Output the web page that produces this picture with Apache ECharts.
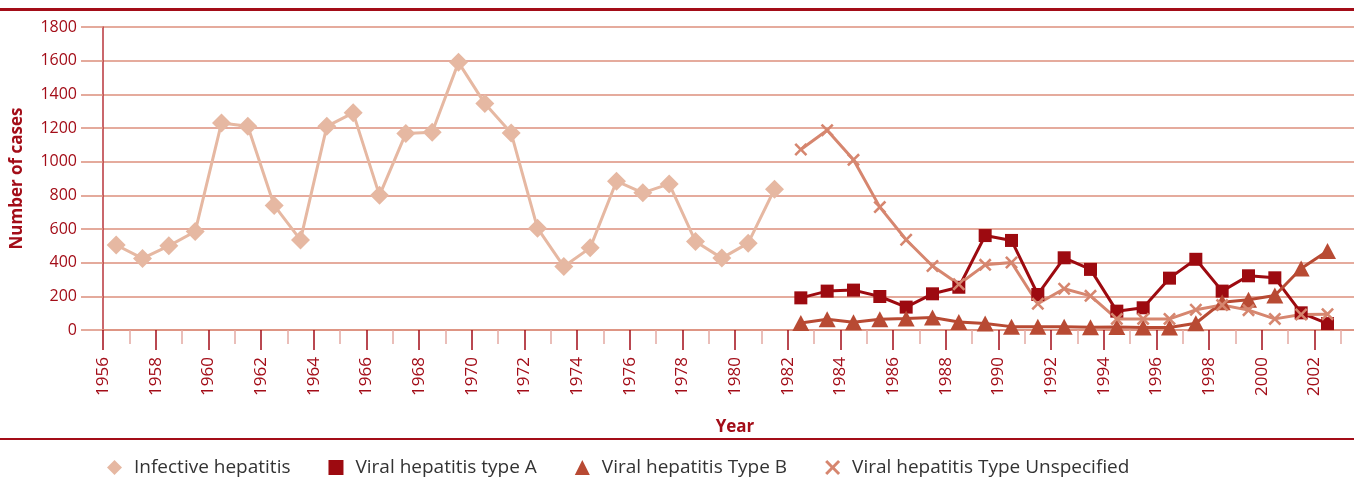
<!DOCTYPE html>
<html>
<head>
<meta charset="utf-8">
<script src="https://cdn.jsdelivr.net/npm/echarts@6/dist/echarts.min.js"></script>
<style>
  html, body { margin: 0; padding: 0; background: #fff; }
  #chart { width: 1354px; height: 477px; }
</style>
</head>
<body>
<div id="chart"></div>
<script>
var years = [1956, 1957, 1958, 1959, 1960, 1961, 1962, 1963, 1964, 1965, 1966, 1967,
    1968, 1969, 1970, 1971, 1972, 1973, 1974, 1975, 1976, 1977, 1978, 1979,
    1980, 1981, 1982, 1983, 1984, 1985, 1986, 1987, 1988, 1989, 1990, 1991,
    1992, 1993, 1994, 1995, 1996, 1997, 1998, 1999, 2000, 2001, 2002, 2003];

// 1956 - 1981
var infectiveYears = [1956, 1957, 1958, 1959, 1960, 1961, 1962, 1963, 1964, 1965, 1966, 1967,
    1968, 1969, 1970, 1971, 1972, 1973, 1974, 1975, 1976, 1977, 1978, 1979, 1980, 1981];
var infective = [505, 425, 500, 585, 1230, 1210, 740, 535, 1210, 1290, 800, 1168,
    1175, 1590, 1345, 1170, 605, 377, 488, 884, 815, 868, 526, 427, 516, 836];

// 1982 - 2002
var viralYears = [1982, 1983, 1984, 1985, 1986, 1987, 1988, 1989, 1990, 1991, 1992,
    1993, 1994, 1995, 1996, 1997, 1998, 1999, 2000, 2001, 2002];
var typeA = [191, 231, 237, 199, 136, 215, 254, 561, 532, 211, 429,
    360, 112, 132, 308, 420, 231, 322, 310, 102, 38];
var typeB = [42, 64, 46, 64, 68, 74, 48, 38, 20, 20, 20,
    17, 18, 15, 15, 40, 165, 180, 205, 365, 470];
var typeU = [1072, 1187, 1011, 730, 536, 380, 272, 387, 401, 156, 245,
    203, 66, 66, 66, 120, 148, 118, 66, 92, 94];

var yTicks = { min: 0, max: 1800, interval: 200 };

var dark = '#a30d18';
var grid = '#dc8f7c';
var xPath = 'path://M0,1.4L1.4,0L5,3.6L8.6,0L10,1.4L6.4,5L10,8.6L8.6,10L5,6.4L1.4,10L0,8.6L3.6,5Z';

function pairs(xs, vs) {
    return xs.map(function (y, i) { return [String(y), vs[i]]; });
}

var myChart = echarts.init(document.getElementById('chart'));

var option = {
    animation: false,
    textStyle: { fontFamily: 'Open Sans' },
    grid: { left: 103, right: -13, top: 27, bottom: 147, outerBoundsMode: 'none', containLabel: false },
    graphic: [
        { type: 'rect', shape: { x: 0, y: 8, width: 1354, height: 3 }, style: { fill: dark } },
        { type: 'rect', shape: { x: 0, y: 438, width: 1354, height: 2 }, style: { fill: dark } }
    ],
    legend: {
        left: 102,
        top: 453,
        itemWidth: 15,
        itemHeight: 15,
        itemGap: 38,
        textStyle: { color: '#333', fontSize: 19, fontFamily: 'Open Sans', padding: [0, 0, 0, 7] },
        data: [
            { name: 'Infective hepatitis', icon: 'diamond' },
            { name: 'Viral hepatitis type A', icon: 'path://M2,2L12,2L12,12L2,12Z' },
            { name: 'Viral hepatitis Type B', icon: 'triangle' },
            { name: 'Viral hepatitis Type Unspecified', icon: xPath }
        ]
    },
    xAxis: [
        {
            type: 'category',
            data: years.map(String),
            boundaryGap: true,
            show: false
        },
        {
            type: 'value',
            position: 'bottom',
            min: 1956,
            max: 2004,
            interval: 2,
            name: 'Year',
            nameLocation: 'middle',
            nameGap: 89,
            nameTextStyle: { color: dark, fontSize: 17, fontWeight: 'bold' },
            axisLine: { show: true, lineStyle: { color: grid, width: 1.5 } },
            axisTick: { show: true, length: 20, lineStyle: { color: dark, width: 1.5 } },
            minorTick: { show: true, splitNumber: 2, length: 14, lineStyle: { color: '#e3a9a2', width: 1.5 } },
            splitLine: { show: false },
            axisLabel: {
                rotate: 90,
                margin: 27,
                color: dark,
                fontSize: 17,
                formatter: function (v) { return String(v); }
            }
        }
    ],
    yAxis: {
        type: 'value',
        min: yTicks.min,
        max: yTicks.max,
        interval: yTicks.interval,
        name: 'Number of cases',
        nameLocation: 'middle',
        nameGap: 77,
        nameTextStyle: { color: dark, fontSize: 17, fontWeight: 'bold' },
        axisLine: { show: true, lineStyle: { color: '#b8343b', width: 1.5 } },
        axisTick: { show: true, length: 22, lineStyle: { color: grid, width: 1.5 } },
        axisLabel: { color: dark, fontSize: 16, margin: 26, formatter: function (v) { return String(v); } },
        splitLine: { show: true, lineStyle: { color: grid, width: 1.5 } }
    },
    series: [
        {
            name: 'Infective hepatitis',
            type: 'line',
            xAxisIndex: 0,
            data: pairs(infectiveYears, infective),
            symbol: 'diamond',
            symbolSize: 19,
            showAllSymbol: true,
            lineStyle: { color: '#e6b8a2', width: 3 },
            itemStyle: { color: '#e6b8a2' }
        },
        {
            name: 'Viral hepatitis type A',
            type: 'line',
            xAxisIndex: 0,
            data: pairs(viralYears, typeA),
            symbol: 'rect',
            symbolSize: 13,
            showAllSymbol: true,
            lineStyle: { color: '#9d0a10', width: 3 },
            itemStyle: { color: '#9d0a10' }
        },
        {
            name: 'Viral hepatitis Type B',
            type: 'line',
            xAxisIndex: 0,
            data: pairs(viralYears, typeB),
            symbol: 'triangle',
            symbolSize: [17, 16],
            showAllSymbol: true,
            lineStyle: { color: '#b84a33', width: 3 },
            itemStyle: { color: '#b84a33' }
        },
        {
            name: 'Viral hepatitis Type Unspecified',
            type: 'line',
            xAxisIndex: 0,
            data: pairs(viralYears, typeU),
            symbol: xPath,
            symbolSize: 13,
            showAllSymbol: true,
            lineStyle: { color: '#d6866f', width: 3 },
            itemStyle: { color: '#d6866f' }
        }
    ]
};

myChart.setOption(option);
</script>
</body>
</html>
